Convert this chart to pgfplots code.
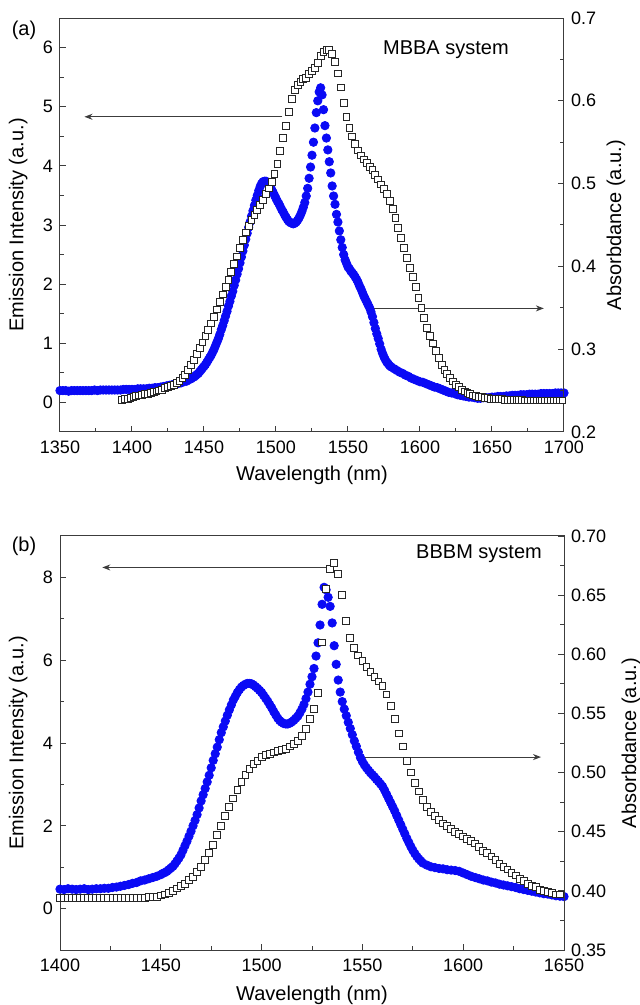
\documentclass[border=0pt]{standalone}
\usepackage{fontspec}
\setmainfont{Liberation Sans}
\usepackage{pgfplots}
\pgfplotsset{compat=1.18}
\usepackage{pgfplotstable}
\usetikzlibrary{arrows.meta}

\definecolor{emblue}{RGB}{10,10,245}
\definecolor{axgray}{RGB}{60,60,60}

% ---- panel (a): MBBA ----
\pgfplotstableread[row sep=\\]{x y\\
1350 0.20\\ 1352 0.20\\ 1354 0.20\\ 1356 0.19\\ 1358 0.20\\ 1360 0.20\\ 1362 0.20\\ 1364 0.20\\ 1366 0.20\\ 1368 0.20\\
1370 0.20\\ 1372 0.20\\ 1374 0.21\\ 1376 0.20\\ 1378 0.21\\ 1380 0.21\\ 1382 0.21\\ 1384 0.21\\ 1386 0.21\\ 1388 0.21\\
1390 0.21\\ 1392 0.21\\ 1394 0.22\\ 1396 0.22\\ 1398 0.22\\ 1400 0.22\\ 1402 0.22\\ 1404 0.23\\ 1406 0.23\\ 1408 0.23\\
1410 0.23\\ 1412 0.24\\ 1414 0.24\\ 1416 0.25\\ 1418 0.25\\ 1420 0.26\\ 1422 0.27\\ 1424 0.28\\ 1426 0.29\\ 1428 0.30\\
1430 0.31\\ 1432 0.32\\ 1434 0.33\\ 1436 0.35\\ 1438 0.36\\ 1440 0.39\\
1441 0.40\\ 1442 0.42\\ 1443 0.43\\ 1444 0.45\\ 1445 0.47\\ 1446 0.49\\ 1447 0.52\\ 1448 0.55\\ 1449 0.58\\ 1450 0.61\\
1451 0.64\\ 1452 0.68\\ 1453 0.72\\ 1454 0.76\\ 1455 0.80\\ 1456 0.85\\ 1457 0.90\\ 1458 0.96\\ 1459 1.02\\ 1460 1.08\\
1461 1.15\\ 1462 1.23\\ 1463 1.30\\ 1464 1.38\\ 1465 1.46\\ 1466 1.54\\ 1467 1.63\\ 1468 1.71\\ 1469 1.80\\ 1470 1.88\\
1471 1.98\\ 1472 2.07\\ 1473 2.17\\ 1474 2.26\\ 1475 2.36\\ 1476 2.46\\ 1477 2.56\\ 1478 2.66\\ 1479 2.76\\ 1480 2.86\\
1481 2.96\\ 1482 3.05\\ 1483 3.15\\ 1484 3.24\\ 1485 3.33\\ 1486 3.42\\ 1487 3.50\\ 1488 3.58\\ 1489 3.65\\ 1490 3.70\\
1491 3.73\\ 1492 3.74\\ 1493 3.74\\ 1494 3.72\\ 1495 3.69\\ 1496 3.65\\ 1497 3.60\\ 1498 3.55\\ 1499 3.50\\ 1500 3.45\\
1501 3.40\\ 1502 3.36\\ 1503 3.31\\ 1504 3.26\\ 1505 3.22\\ 1506 3.17\\ 1507 3.13\\ 1508 3.09\\ 1509 3.06\\ 1510 3.04\\
1511 3.03\\ 1512 3.02\\ 1513 3.03\\ 1514 3.05\\ 1515 3.08\\ 1516 3.12\\ 1517 3.17\\ 1518 3.23\\ 1519 3.30\\ 1520 3.38\\
1521 3.49\\ 1522 3.62\\ 1523 3.79\\ 1524 3.98\\ 1525 4.18\\ 1526 4.40\\ 1527 4.64\\ 1528 4.90\\ 1529 5.10\\ 1530 5.25\\
1531 5.32\\ 1532 5.20\\ 1533 4.95\\ 1534 4.68\\ 1535 4.47\\ 1536 4.27\\ 1537 4.07\\ 1538 3.88\\ 1539 3.66\\ 1540 3.49\\
1541 3.35\\ 1542 3.18\\ 1543 3.05\\ 1544 2.90\\ 1545 2.75\\ 1546 2.62\\ 1547 2.50\\ 1548 2.41\\ 1549 2.35\\ 1550 2.29\\
1551 2.26\\ 1552 2.22\\ 1553 2.19\\ 1554 2.16\\ 1555 2.12\\ 1556 2.08\\ 1557 2.03\\ 1558 1.97\\ 1559 1.92\\ 1560 1.86\\
1561 1.80\\ 1562 1.75\\ 1563 1.70\\ 1564 1.65\\ 1565 1.60\\ 1566 1.53\\ 1567 1.45\\ 1568 1.35\\ 1569 1.25\\ 1570 1.16\\
1571 1.08\\ 1572 0.99\\ 1573 0.90\\ 1574 0.83\\ 1575 0.77\\ 1576 0.72\\ 1577 0.68\\ 1578 0.65\\ 1579 0.62\\ 1580 0.60\\
1582 0.57\\ 1584 0.54\\ 1586 0.51\\ 1588 0.49\\ 1590 0.46\\ 1592 0.44\\ 1594 0.41\\ 1596 0.39\\ 1598 0.37\\ 1600 0.35\\
1602 0.34\\ 1604 0.32\\ 1606 0.30\\ 1608 0.28\\ 1610 0.26\\ 1612 0.25\\ 1614 0.23\\ 1616 0.21\\ 1618 0.19\\ 1620 0.17\\
1622 0.16\\ 1624 0.15\\ 1626 0.13\\ 1628 0.12\\ 1630 0.11\\ 1632 0.10\\ 1634 0.09\\ 1636 0.09\\ 1638 0.08\\ 1640 0.07\\
1642 0.07\\ 1644 0.08\\ 1646 0.08\\ 1648 0.08\\ 1650 0.09\\ 1652 0.09\\ 1654 0.10\\ 1656 0.10\\ 1658 0.10\\ 1660 0.11\\
1662 0.11\\ 1664 0.12\\ 1666 0.12\\ 1668 0.12\\ 1670 0.13\\ 1672 0.13\\ 1674 0.13\\ 1676 0.14\\ 1678 0.14\\ 1680 0.14\\
1682 0.14\\ 1684 0.15\\ 1686 0.15\\ 1688 0.15\\ 1690 0.15\\ 1692 0.15\\ 1694 0.16\\ 1696 0.16\\ 1698 0.16\\ 1700 0.16\\
}\emA

\pgfplotstableread[row sep=\\]{x y\\
1393 0.239\\ 1395 0.240\\ 1397 0.240\\ 1399 0.241\\ 1401 0.242\\ 1403 0.243\\ 1405 0.244\\ 1407 0.245\\ 1409 0.246\\ 1411 0.246\\
1413 0.247\\ 1415 0.248\\ 1417 0.249\\ 1419 0.250\\ 1421 0.251\\ 1423 0.253\\ 1425 0.254\\ 1427 0.256\\ 1429 0.257\\ 1431 0.259\\
1433 0.262\\ 1435 0.265\\ 1437 0.269\\ 1439 0.275\\ 1441 0.281\\ 1443 0.287\\ 1445 0.294\\ 1447 0.301\\ 1449 0.308\\ 1451 0.316\\
1453 0.323\\ 1455 0.331\\ 1457 0.339\\ 1459 0.348\\ 1461 0.357\\ 1463 0.366\\ 1465 0.375\\ 1467 0.384\\ 1469 0.393\\ 1471 0.403\\
1473 0.412\\ 1475 0.422\\ 1477 0.432\\ 1479 0.441\\ 1481 0.449\\ 1483 0.456\\ 1485 0.462\\ 1487 0.468\\ 1489 0.474\\ 1491 0.480\\
1493 0.487\\ 1495 0.494\\ 1497 0.502\\ 1499 0.512\\ 1501 0.524\\ 1503 0.539\\ 1505 0.555\\ 1507 0.570\\ 1509 0.586\\ 1511 0.602\\
1513 0.613\\ 1515 0.619\\ 1517 0.623\\ 1519 0.626\\ 1521 0.628\\ 1523 0.632\\ 1525 0.636\\ 1527 0.640\\ 1529 0.646\\ 1531 0.654\\
1533 0.659\\ 1535 0.661\\ 1537 0.661\\ 1539 0.657\\ 1541 0.647\\ 1543 0.633\\ 1545 0.616\\ 1547 0.597\\ 1549 0.580\\ 1551 0.567\\
1553 0.557\\ 1555 0.548\\ 1557 0.540\\ 1559 0.534\\ 1561 0.529\\ 1563 0.525\\ 1565 0.520\\ 1567 0.516\\ 1569 0.510\\ 1571 0.505\\
1573 0.499\\ 1575 0.493\\ 1577 0.487\\ 1579 0.479\\ 1581 0.469\\ 1583 0.458\\ 1585 0.446\\ 1587 0.434\\ 1589 0.422\\ 1591 0.410\\
1593 0.398\\ 1595 0.387\\ 1597 0.375\\ 1599 0.362\\ 1601 0.350\\ 1603 0.338\\ 1605 0.326\\ 1607 0.316\\ 1609 0.307\\ 1611 0.298\\
1613 0.289\\ 1615 0.281\\ 1617 0.275\\ 1619 0.270\\ 1621 0.265\\ 1623 0.261\\ 1625 0.257\\ 1627 0.254\\ 1629 0.251\\ 1631 0.249\\
1633 0.247\\ 1635 0.246\\ 1637 0.244\\ 1639 0.243\\ 1641 0.242\\ 1643 0.242\\ 1645 0.241\\ 1647 0.241\\ 1649 0.240\\ 1651 0.240\\
1653 0.240\\ 1655 0.240\\ 1657 0.240\\ 1659 0.239\\ 1661 0.239\\ 1663 0.239\\ 1665 0.239\\ 1667 0.239\\ 1669 0.239\\ 1671 0.239\\
1673 0.238\\ 1675 0.238\\ 1677 0.238\\ 1679 0.238\\ 1681 0.238\\ 1683 0.238\\ 1685 0.238\\ 1687 0.238\\ 1689 0.238\\ 1691 0.238\\
1693 0.238\\ 1695 0.238\\ 1697 0.238\\ 1699 0.238\\
}\abA

% ---- panel (b): BBBM ----
\pgfplotstableread[row sep=\\]{x y\\
1400 0.47\\ 1402 0.46\\ 1404 0.48\\ 1406 0.47\\ 1408 0.46\\ 1410 0.47\\ 1412 0.48\\ 1414 0.46\\ 1416 0.47\\ 1418 0.48\\
1420 0.48\\ 1422 0.49\\ 1424 0.49\\ 1426 0.51\\ 1428 0.52\\ 1430 0.54\\ 1432 0.56\\ 1434 0.58\\ 1436 0.61\\ 1438 0.63\\
1440 0.67\\ 1442 0.69\\ 1444 0.72\\ 1446 0.75\\ 1448 0.78\\ 1450 0.82\\
1451 0.85\\ 1452 0.87\\ 1453 0.90\\ 1454 0.94\\ 1455 0.98\\ 1456 1.02\\ 1457 1.08\\ 1458 1.15\\ 1459 1.22\\ 1460 1.30\\
1461 1.41\\ 1462 1.52\\ 1463 1.63\\ 1464 1.75\\ 1465 1.87\\ 1466 2.00\\ 1467 2.13\\ 1468 2.27\\ 1469 2.43\\ 1470 2.60\\
1471 2.75\\ 1472 2.90\\ 1473 3.06\\ 1474 3.22\\ 1475 3.40\\ 1476 3.58\\ 1477 3.74\\ 1478 3.90\\ 1479 4.08\\ 1480 4.25\\
1481 4.39\\ 1482 4.53\\ 1483 4.67\\ 1484 4.80\\ 1485 4.92\\ 1486 5.04\\ 1487 5.13\\ 1488 5.22\\ 1489 5.29\\ 1490 5.35\\
1491 5.39\\ 1492 5.42\\ 1493 5.44\\ 1494 5.44\\ 1495 5.43\\ 1496 5.40\\ 1497 5.36\\ 1498 5.32\\ 1499 5.27\\ 1500 5.22\\
1501 5.15\\ 1502 5.08\\ 1503 5.01\\ 1504 4.93\\ 1505 4.85\\ 1506 4.76\\ 1507 4.68\\ 1508 4.60\\ 1509 4.54\\ 1510 4.50\\
1511 4.47\\ 1512 4.46\\ 1513 4.46\\ 1514 4.48\\ 1515 4.51\\ 1516 4.55\\ 1517 4.60\\ 1518 4.65\\ 1519 4.73\\ 1520 4.82\\
1521 4.93\\ 1522 5.07\\ 1523 5.23\\ 1524 5.42\\ 1525 5.60\\ 1526 5.80\\ 1527 6.10\\ 1528 6.42\\ 1529 6.85\\ 1530 7.35\\
1531 7.76\\ 1532 7.70\\ 1533 7.52\\ 1534 7.30\\ 1535 6.90\\ 1536 6.35\\ 1537 5.90\\ 1538 5.52\\ 1539 5.23\\ 1540 5.00\\
1541 4.82\\ 1542 4.66\\ 1543 4.50\\ 1544 4.35\\ 1545 4.20\\ 1546 4.05\\ 1547 3.92\\ 1548 3.78\\ 1549 3.65\\ 1550 3.55\\
1551 3.47\\ 1552 3.40\\ 1553 3.34\\ 1554 3.28\\ 1555 3.23\\ 1556 3.18\\ 1557 3.12\\ 1558 3.07\\ 1559 3.01\\ 1560 2.95\\
1561 2.86\\ 1562 2.76\\ 1563 2.66\\ 1564 2.56\\ 1565 2.46\\ 1566 2.36\\ 1567 2.25\\ 1568 2.14\\ 1569 2.03\\ 1570 1.92\\
1571 1.81\\ 1572 1.70\\ 1573 1.60\\ 1574 1.50\\ 1575 1.41\\ 1576 1.33\\ 1577 1.26\\ 1578 1.20\\ 1579 1.15\\ 1580 1.10\\
1582 1.05\\ 1584 1.01\\ 1586 0.99\\ 1588 0.97\\ 1590 0.96\\ 1592 0.94\\ 1594 0.93\\ 1596 0.92\\ 1598 0.90\\ 1600 0.86\\
1602 0.82\\ 1604 0.78\\ 1606 0.75\\ 1608 0.72\\ 1610 0.69\\ 1612 0.67\\ 1614 0.64\\ 1616 0.62\\ 1618 0.59\\ 1620 0.57\\
1622 0.55\\ 1624 0.53\\ 1626 0.51\\ 1628 0.48\\ 1630 0.46\\ 1632 0.44\\ 1634 0.42\\ 1636 0.40\\ 1638 0.38\\ 1640 0.36\\
1642 0.35\\ 1644 0.33\\ 1646 0.31\\ 1648 0.30\\ 1650 0.29\\
}\emB

\pgfplotstableread[row sep=\\]{x y\\
1400 0.394\\ 1402 0.394\\ 1404 0.394\\ 1406 0.394\\ 1408 0.394\\ 1410 0.394\\ 1412 0.394\\ 1414 0.394\\ 1416 0.394\\ 1418 0.394\\
1420 0.394\\ 1422 0.394\\ 1424 0.394\\ 1426 0.394\\ 1428 0.394\\ 1430 0.394\\ 1432 0.394\\ 1434 0.394\\ 1436 0.394\\ 1438 0.394\\
1440 0.394\\ 1442 0.394\\ 1444 0.395\\ 1446 0.395\\ 1448 0.395\\ 1450 0.396\\ 1452 0.397\\ 1454 0.398\\ 1456 0.400\\ 1458 0.402\\
1460 0.404\\ 1462 0.406\\ 1464 0.409\\ 1466 0.412\\ 1468 0.416\\ 1470 0.420\\ 1472 0.426\\ 1474 0.432\\ 1476 0.439\\ 1478 0.447\\
1480 0.455\\ 1482 0.463\\ 1484 0.471\\ 1486 0.478\\ 1488 0.485\\ 1490 0.492\\ 1492 0.498\\ 1494 0.503\\ 1496 0.507\\ 1498 0.510\\
1500 0.513\\ 1502 0.515\\ 1504 0.516\\ 1506 0.517\\ 1508 0.518\\ 1510 0.519\\ 1512 0.520\\ 1514 0.522\\ 1516 0.524\\ 1518 0.527\\
1520 0.531\\ 1522 0.537\\ 1524 0.545\\ 1526 0.554\\ 1528 0.567\\ 1530 0.610\\ 1532 0.655\\ 1534 0.672\\ 1536 0.677\\ 1538 0.668\\
1540 0.650\\ 1542 0.628\\ 1544 0.614\\ 1546 0.605\\ 1548 0.599\\ 1550 0.594\\ 1552 0.589\\ 1554 0.585\\ 1556 0.581\\ 1558 0.577\\
1560 0.573\\ 1562 0.566\\ 1564 0.556\\ 1566 0.545\\ 1568 0.533\\ 1570 0.522\\ 1572 0.510\\ 1574 0.500\\ 1576 0.491\\ 1578 0.484\\
1580 0.477\\ 1582 0.471\\ 1584 0.467\\ 1586 0.463\\ 1588 0.460\\ 1590 0.457\\ 1592 0.455\\ 1594 0.452\\ 1596 0.450\\ 1598 0.448\\
1600 0.446\\ 1602 0.444\\ 1604 0.442\\ 1606 0.440\\ 1608 0.437\\ 1610 0.434\\ 1612 0.432\\ 1614 0.429\\ 1616 0.426\\ 1618 0.423\\
1620 0.420\\ 1622 0.418\\ 1624 0.415\\ 1626 0.413\\ 1628 0.410\\ 1630 0.408\\ 1632 0.406\\ 1634 0.404\\ 1636 0.403\\ 1638 0.401\\
1640 0.400\\ 1642 0.399\\ 1644 0.398\\ 1646 0.397\\ 1648 0.397\\
}\abB

\pgfplotsset{
  spec/.style={
    scale only axis, width=252pt, height=207pt,
    tick align=inside,
    major tick length=3pt, minor tick length=2pt,
    axis line style={axgray, line width=0.5pt},
    every tick/.style={axgray, line width=0.5pt},
    tick label style={font=\fontsize{9}{10}\selectfont},
    xticklabel style={yshift=-1pt},
    label style={font=\fontsize{10}{12}\selectfont},
    /pgf/number format/assume math mode=true,
    /pgf/number format/1000 sep={},
    minor x tick num=1, minor y tick num=1,
  },
  emis/.style={only marks, mark=*, mark size=2.1pt, color=emblue},
  absb/.style={only marks, mark=square*, mark size=1.7pt,
    mark options={draw=black!85, fill=white, line width=0.5pt}},
}
\tikzset{arr/.style={axgray, line width=0.5pt, -{Stealth[length=4pt,width=3pt]}}}

\begin{document}
\begin{tikzpicture}
\path[use as bounding box] (-30pt,-286.5pt) rectangle (290pt,216pt);

% (a) emission, left axis
\begin{axis}[spec, at={(0,0)},
  xmin=1350, xmax=1700, xtick={1350,1400,1450,1500,1550,1600,1650,1700},
  ymin=-0.5, ymax=6.5, ytick={0,1,2,3,4,5,6},
  tick pos=left,
  xlabel={Wavelength (nm)}, ylabel={Emission Intensity (a.u.)},
  xlabel style={at={(axis description cs:0.5,-0.104)}, anchor=center},
  ylabel style={at={(axis description cs:-0.083,0.5)}, anchor=center}]
\addplot[emis] table {\emA};
\draw[arr] (axis cs:1504.5,4.83) -- (axis cs:1367,4.83);
\draw[arr] (axis cs:1563.5,1.59) -- (axis cs:1686,1.59);
\node[font=\fontsize{10}{12}\selectfont] at (axis cs:1618,5.97) {MBBA system};
\end{axis}

% (a) absorbance, right axis
\begin{axis}[spec, at={(0,0)},
  xmin=1350, xmax=1700, axis x line=none, axis y line*=right,
  ymin=0.2, ymax=0.7, ytick={0.2,0.3,0.4,0.5,0.6,0.7},
  yticklabel style={/pgf/number format/fixed, /pgf/number format/precision=1},
  ylabel={Absorbdance (a.u.)},
  ylabel style={at={(axis description cs:1.103,0.5)}, anchor=center}]
\addplot[absb] table {\abA};
\end{axis}

% (b) emission, left axis
\begin{axis}[spec, at={(0,-259pt)},
  xmin=1400, xmax=1650, xtick={1400,1450,1500,1550,1600,1650},
  ymin=-1, ymax=9, ytick={0,2,4,6,8},
  tick pos=left,
  xlabel={Wavelength (nm)}, ylabel={Emission Intensity (a.u.)},
  xlabel style={at={(axis description cs:0.5,-0.109)}, anchor=center},
  ylabel style={at={(axis description cs:-0.083,0.5)}, anchor=center}]
\addplot[emis] table {\emB};
\draw[arr] (axis cs:1532,8.24) -- (axis cs:1421,8.24);
\draw[arr] (axis cs:1549,3.66) -- (axis cs:1638.6,3.66);
\node[font=\fontsize{10}{12}\selectfont, anchor=east] at (axis cs:1642.5,8.58) {BBBM system};
\end{axis}

% (b) absorbance, right axis
\begin{axis}[spec, at={(0,-259pt)},
  xmin=1400, xmax=1650, axis x line=none, axis y line*=right,
  ymin=0.35, ymax=0.70, ytick={0.35,0.40,0.45,0.50,0.55,0.60,0.65,0.70},
  yticklabel style={/pgf/number format/fixed, /pgf/number format/fixed zerofill, /pgf/number format/precision=2},
  ylabel={Absorbdance (a.u.)},
  ylabel style={at={(axis description cs:1.133,0.5)}, anchor=center}]
\addplot[absb] table {\abB};
\end{axis}

\node[font=\fontsize{10}{12}\selectfont] at (-18pt,201pt) {(a)};
\node[font=\fontsize{10}{12}\selectfont] at (-18pt,-57pt) {(b)};
\end{tikzpicture}
\end{document}
